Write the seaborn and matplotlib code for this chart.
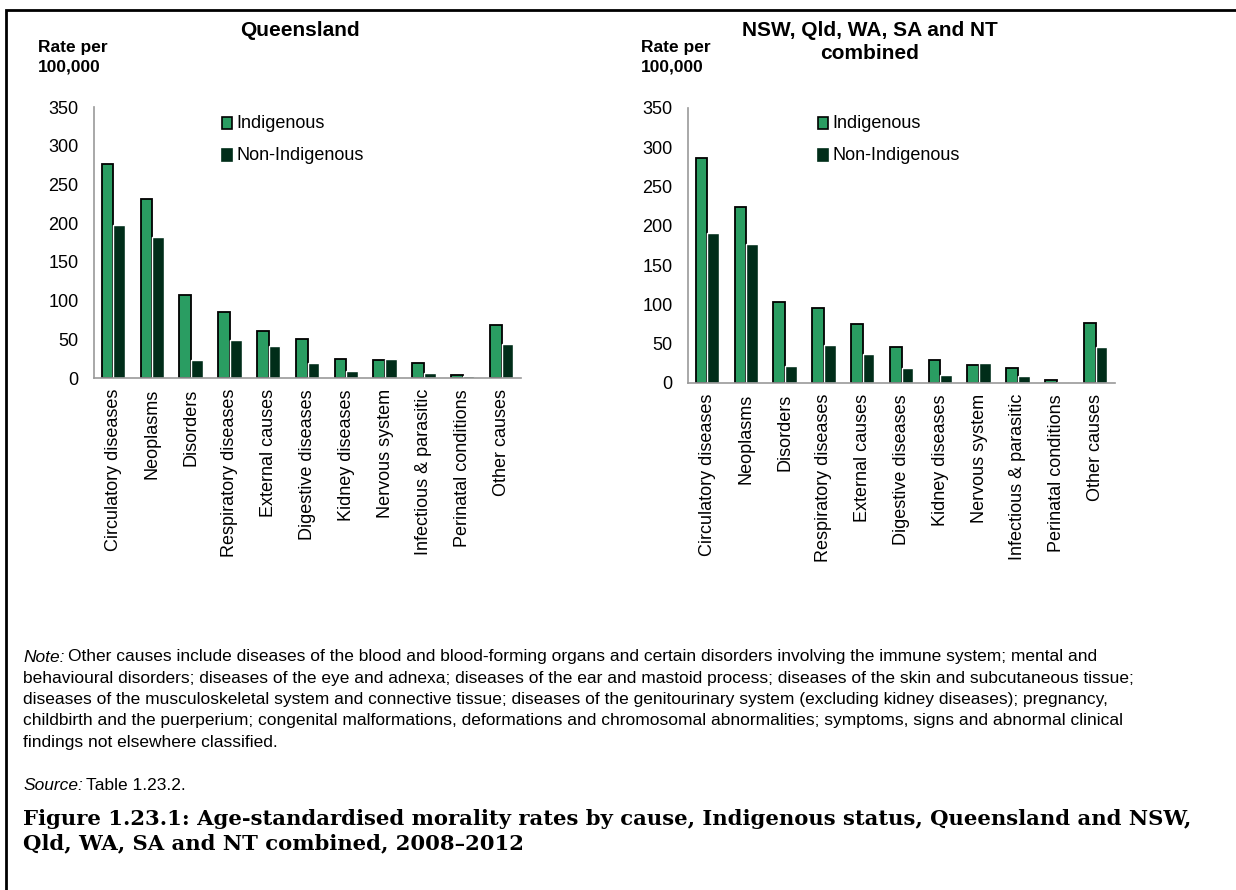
import numpy as np
import pandas as pd
import matplotlib
matplotlib.use("Agg")
import matplotlib.pyplot as plt
import seaborn as sns
from matplotlib.patches import Rectangle

# donnees
causes = ["Circulatory diseases", "Neoplasms", "Disorders", "Respiratory diseases",
          "External causes", "Digestive diseases", "Kidney diseases", "Nervous system",
          "Infectious & parasitic", "Perinatal conditions", "Other causes"]
qld_indig = [277, 231, 107, 85, 61, 50, 25, 23, 19, 4, 69]
qld_non = [197, 182, 23, 49, 41, 20, 9, 24, 6, 2.5, 44]
comb_indig = [286, 224, 103, 96, 75, 46, 29, 23, 19, 4, 76]
comb_non = [191, 177, 22, 48, 37, 19, 10, 25, 8.5, 1, 46]
statuses = ["Indigenous", "Non-Indigenous"]
titles = ["Queensland", "NSW, Qld, WA, SA and NT\ncombined"]

palette = {"Indigenous": "#2a9d62", "Non-Indigenous": "#002d19"}

sns.set_style("white")
plt.rcParams["font.family"] = ["Liberation Sans", "DejaVu Sans"]
plt.rcParams["text.color"] = "black"
plt.rcParams["xtick.labelcolor"] = "black"
plt.rcParams["ytick.labelcolor"] = "black"

fig = plt.figure(figsize=(12.36, 8.90), dpi=100)
W, H = 1236, 890

def box(x0, y0, x1, y1):
    return [x0 / W, 1 - y1 / H, (x1 - x0) / W, (y1 - y0) / H]

ax_pos = [box(94, 107, 521, 378), box(688, 108, 1115, 383)]
label_x = [38, 641]
leg_x = [222, 818]
title_x = [300, 870]

datasets = [(qld_indig, qld_non), (comb_indig, comb_non)]
for i, (ind, non) in enumerate(datasets):
    df = pd.DataFrame({
        "cause": causes * 2,
        "status": [statuses[0]] * len(causes) + [statuses[1]] * len(causes),
        "rate": list(ind) + list(non),
    })
    ax = fig.add_axes(ax_pos[i])
    sns.barplot(data=df, x="cause", y="rate", hue="status", palette=palette,
                order=causes, hue_order=statuses, width=0.6, ax=ax,
                saturation=1, legend=False)
    # contour noir sur les barres vertes seulement
    for p in ax.containers[0]:
        p.set_edgecolor("black")
        p.set_linewidth(1.3)
    ax.set_ylim(0, 350)
    ax.set_xlim(-0.5, len(causes) - 0.5)
    ax.set_yticks(range(0, 351, 50))
    ax.set_xticks(np.arange(len(causes)))
    ax.set_xticklabels(causes, rotation=90, fontsize=13)
    ax.tick_params(axis="x", length=0, pad=8, labelcolor="black")
    ax.set_xticks(np.arange(-0.5, len(causes)), minor=True)
    ax.tick_params(axis="x", which="minor", length=6, color="#999999", width=1.2, direction="out")
    ax.tick_params(axis="y", labelsize=13, length=5, color="#999999", width=1.2, direction="out",
                   pad=6, labelcolor="black")
    sns.despine(ax=ax, top=True, right=True)
    for s in ["left", "bottom"]:
        ax.spines[s].set_color("#999999")
        ax.spines[s].set_linewidth(1.2)
    ax.set_xlabel("")
    ax.set_ylabel("")

    fig.text(label_x[i] / W, 1 - 57 / H, "Rate per\n100,000", fontsize=12.5,
             fontweight="bold", ha="left", va="center", linespacing=1.4)
    ty = 30 if i == 0 else 42
    fig.text(title_x[i] / W, 1 - ty / H, titles[i], fontsize=15, fontweight="bold",
             ha="center", va="center", linespacing=1.3)
    for j, st in enumerate(statuses):
        yy = 123 + 32 * j
        fig.patches.append(Rectangle((leg_x[i] / W, 1 - (yy + 6) / H), 10 / W, 12 / H,
                                     transform=fig.transFigure, facecolor=palette[st],
                                     edgecolor="black" if j == 0 else palette[st],
                                     linewidth=1.2))
        fig.text((leg_x[i] + 14) / W, 1 - yy / H, st, fontsize=13, ha="left", va="center")

# cadre
fig.patches.append(Rectangle((6 / W, -0.05), 1.2, 1 - 10 / H + 0.05, transform=fig.transFigure,
                             fill=False, edgecolor="black", linewidth=2))

note_lines = [
    "Other causes include diseases of the blood and blood-forming organs and certain disorders involving the immune system; mental and",
    "behavioural disorders; diseases of the eye and adnexa; diseases of the ear and mastoid process; diseases of the skin and subcutaneous tissue;",
    "diseases of the musculoskeletal system and connective tissue; diseases of the genitourinary system (excluding kidney diseases); pregnancy,",
    "childbirth and the puerperium; congenital malformations, deformations and chromosomal abnormalities; symptoms, signs and abnormal clinical",
    "findings not elsewhere classified.",
]
fs_note = 12.5
renderer = fig.canvas.get_renderer()
t = fig.text(23 / W, 1 - 657 / H, "Note:", fontsize=fs_note, style="italic", ha="left", va="center")
wpx = t.get_window_extent(renderer).width
fig.text((23 + wpx + 3) / W, 1 - 657 / H, note_lines[0], fontsize=fs_note, ha="left", va="center")
for k, line in enumerate(note_lines[1:], start=1):
    fig.text(23 / W, 1 - (657 + 21.3 * k) / H, line, fontsize=fs_note, ha="left", va="center")

t = fig.text(23 / W, 1 - 785 / H, "Source:", fontsize=fs_note, style="italic", ha="left", va="center")
wpx = t.get_window_extent(renderer).width
fig.text((23 + wpx + 3) / W, 1 - 785 / H, "Table 1.23.2.", fontsize=fs_note, ha="left", va="center")

cap = ("Figure 1.23.1: Age-standardised morality rates by cause, Indigenous status, Queensland and NSW,\n"
       "Qld, WA, SA and NT combined, 2008\u20132012")
fig.text(23 / W, 1 - 831 / H, cap, fontsize=15.2, fontweight="bold", family=["DejaVu Serif"],
         ha="left", va="center", linespacing=1.3)

fig.savefig("out.png", dpi=100)
